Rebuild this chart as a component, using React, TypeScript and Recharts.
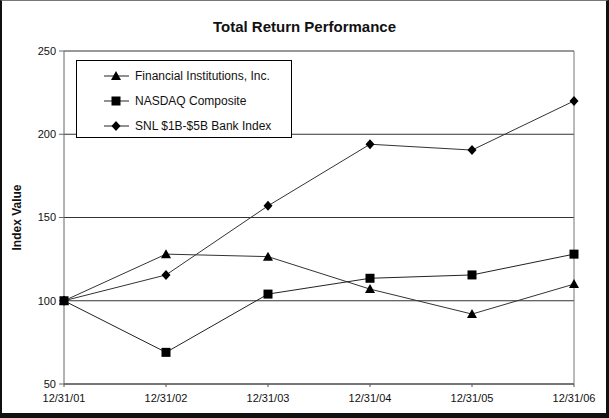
import { LineChart, Line, XAxis, YAxis, CartesianGrid, ReferenceLine, Label } from 'recharts';

const dates = ['12/31/01', '12/31/02', '12/31/03', '12/31/04', '12/31/05', '12/31/06'];
const fii = [100, 128, 126.5, 107, 92, 110];
const nasdaq = [100, 69, 104, 113.5, 115.5, 128];
const snl = [100, 115.5, 157, 194, 190.5, 220];
const yTicks = [50, 100, 150, 200, 250];

const seriesNames = ['Financial Institutions, Inc.', 'NASDAQ Composite', 'SNL $1B-$5B Bank Index'];

const data = dates.map((d, i) => ({ date: d, fii: fii[i], nasdaq: nasdaq[i], snl: snl[i] }));

const FONT = '"Liberation Sans", Arial, sans-serif';

function Triangle({ cx, cy }: any) {
  if (cx == null || cy == null) return null;
  return <path d={`M${cx},${cy - 5}L${cx + 5},${cy + 4}L${cx - 5},${cy + 4}Z`} fill="#000" />;
}

function Square({ cx, cy }: any) {
  if (cx == null || cy == null) return null;
  return <rect x={cx - 4.5} y={cy - 4.5} width={9} height={9} fill="#000" />;
}

function Diamond({ cx, cy }: any) {
  if (cx == null || cy == null) return null;
  return <path d={`M${cx},${cy - 5}L${cx + 4.5},${cy}L${cx},${cy + 5}L${cx - 4.5},${cy}Z`} fill="#000" />;
}

const markers = [Triangle, Square, Diamond];

function LegendBox() {
  return (
    <div style={{ position: 'absolute', left: 76, top: 60, background: '#fff', border: '1px solid #000', width: 216, height: 78, boxSizing: 'border-box', paddingTop: 2 }}>
      {seriesNames.map((name, i) => {
        const M = markers[i];
        return (
          <div key={name} style={{ display: 'flex', alignItems: 'center', height: 25, fontFamily: FONT, fontSize: 12, color: '#111' }}>
            <svg width={56} height={14}>
              <line x1={27} y1={7} x2={52} y2={7} stroke="#222" strokeWidth={1} />
              <M cx={39} cy={7} />
            </svg>
            <span style={{ marginLeft: 2 }}>{name}</span>
          </div>
        );
      })}
    </div>
  );
}

export default function App() {
  return (
    <div style={{ position: 'absolute', left: 0, top: 0, width: 609, height: 418, background: '#fff' }}>
      <LineChart width={609} height={418} data={data} margin={{ top: 51, right: 35, bottom: 0, left: 0 }} style={{ position: 'absolute', left: 0, top: 0 }}>
        <CartesianGrid vertical={false} stroke="#333" />
        <XAxis dataKey="date" height={34} tickSize={3} tickMargin={7} stroke="#555" tick={{ fontSize: 11, fill: '#111', fontFamily: FONT }} interval={0} />
        <YAxis domain={[50, 250]} ticks={yTicks} width={64} tickSize={5} tickMargin={3} stroke="#666" tick={{ fontSize: 11, fill: '#111', fontFamily: FONT }}>
          <Label value="Index Value" angle={-90} position="insideLeft" offset={17} style={{ fontSize: 12, fontWeight: 700, fill: '#111', fontFamily: FONT, textAnchor: 'middle' }} />
        </YAxis>
        <ReferenceLine x="12/31/06" stroke="#777" />
        <Line dataKey="fii" name={seriesNames[0]} stroke="#333" strokeWidth={1} dot={(p: any) => <Triangle key={'t' + p.index} {...p} />} isAnimationActive={false} />
        <Line dataKey="nasdaq" name={seriesNames[1]} stroke="#222" strokeWidth={1} dot={(p: any) => <Square key={'s' + p.index} {...p} />} isAnimationActive={false} />
        <Line dataKey="snl" name={seriesNames[2]} stroke="#333" strokeWidth={1} dot={(p: any) => <Diamond key={'d' + p.index} {...p} />} isAnimationActive={false} />
      </LineChart>
      <div style={{ position: 'absolute', left: 0, top: 18, width: 609, textAlign: 'center', fontFamily: FONT, fontSize: 15, fontWeight: 700, color: '#111' }}>
        Total Return Performance
      </div>
      <LegendBox />
      <div style={{ position: 'absolute', left: 0, top: 0, width: 609, height: 418, boxSizing: 'border-box', borderLeft: '2px solid #111', borderTop: '1px solid #777', borderRight: '3px solid #111', borderBottom: '5px solid #111', pointerEvents: 'none' }} />
    </div>
  );
}
